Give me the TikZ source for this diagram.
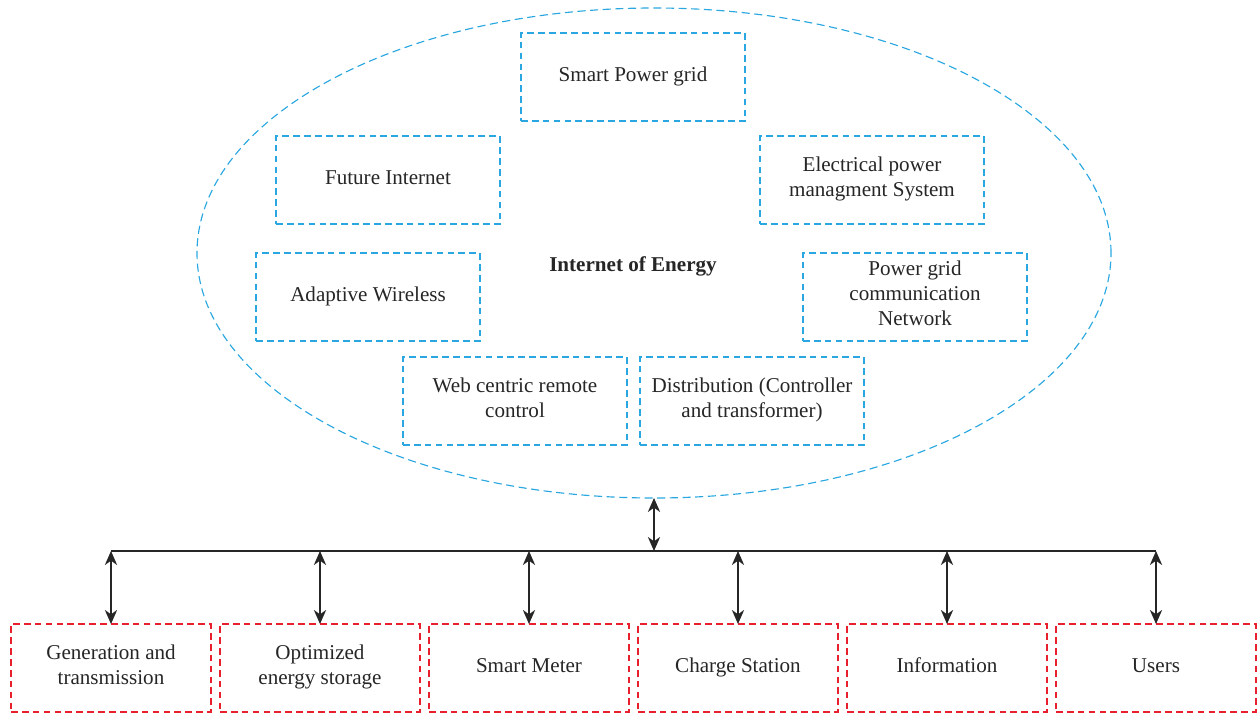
\documentclass[tikz,border=0pt]{standalone}
\usepackage{fontspec}
\setmainfont{Liberation Serif}
\usetikzlibrary{arrows.meta,positioning,shapes.geometric}
\definecolor{ioeblue}{HTML}{2AA7E0}
\definecolor{ioered}{HTML}{E8202E}
\tikzset{
  blk/.style={draw,rectangle,minimum width=4.48cm,minimum height=1.76cm,align=center,outer sep=0pt,
    dash pattern=on 3.8pt off 2.4pt,line width=0.65pt,font=\fontsize{12}{14.2}\selectfont,text=black!85,
    execute at begin node=\strut, execute at end node=\strut},
  ioeblk/.style={blk,draw=ioeblue},
  unitblk/.style={blk,draw=ioered,minimum width=4.0cm},
  ioecloud/.style={draw=ioeblue,ellipse,dash pattern=on 4.6pt off 2.6pt,line width=0.65pt,outer sep=0pt},
  arr/.style={{Stealth[length=8pt,width=7pt,inset=2.5pt]}-{Stealth[length=8pt,width=7pt,inset=2.5pt]},line width=0.7pt,black!85},
  bus/.style={line width=0.8pt,black!85}
}
\begin{document}
\begin{tikzpicture}
  \useasboundingbox (0,0) rectangle (25.16,14.28);
  % Internet of Energy cloud
  \node[ioecloud, minimum width=18.28cm, minimum height=9.8cm] (ioe) at (13.08,9.22) {};
  \node[font=\fontsize{12}{14.2}\selectfont\bfseries, text=black!85] (ioelbl) at (12.66,8.96) {Internet of Energy};

  % Technologies inside the cloud
  \node[ioeblk] (spg) at (12.66,12.74) {Smart Power grid};
  \node[ioeblk] (fi) at (7.76,10.68) {Future Internet};
  \node[ioeblk] (epm) at (17.44,10.68) {Electrical power\\managment System};
  \node[ioeblk] (aw) at (7.36,8.34) {Adaptive Wireless};
  \node[ioeblk] (pgc) at (18.30,8.34) {Power grid\\communication\\Network};
  \node[ioeblk] (wcr) at (10.30,6.26) {Web centric remote\\control};
  \node[ioeblk] (dist) at (15.04,6.26) {Distribution (Controller\\and transformer)};

  % Units at the bottom
  \node[unitblk] (gen) at (2.22,0.92) {Generation and\\transmission};
  \node[unitblk] (oes) at (6.40,0.92) {Optimized\\energy storage};
  \node[unitblk] (sm) at (10.58,0.92) {Smart Meter};
  \node[unitblk] (cs) at (14.76,0.92) {Charge Station};
  \node[unitblk] (info) at (18.94,0.92) {Information};
  \node[unitblk] (usr) at (23.12,0.92) {Users};

  % Bus and connections
  \coordinate (hub) at (ioe.south |- 0,3.26);
  \draw[arr] (ioe.south) -- (hub);
  \draw[bus] (gen.north |- hub) -- (usr.north |- hub);
  \foreach \u in {gen,oes,sm,cs,info,usr}
    \draw[arr] (\u.north |- hub) -- (\u.north);
\end{tikzpicture}
\end{document}
